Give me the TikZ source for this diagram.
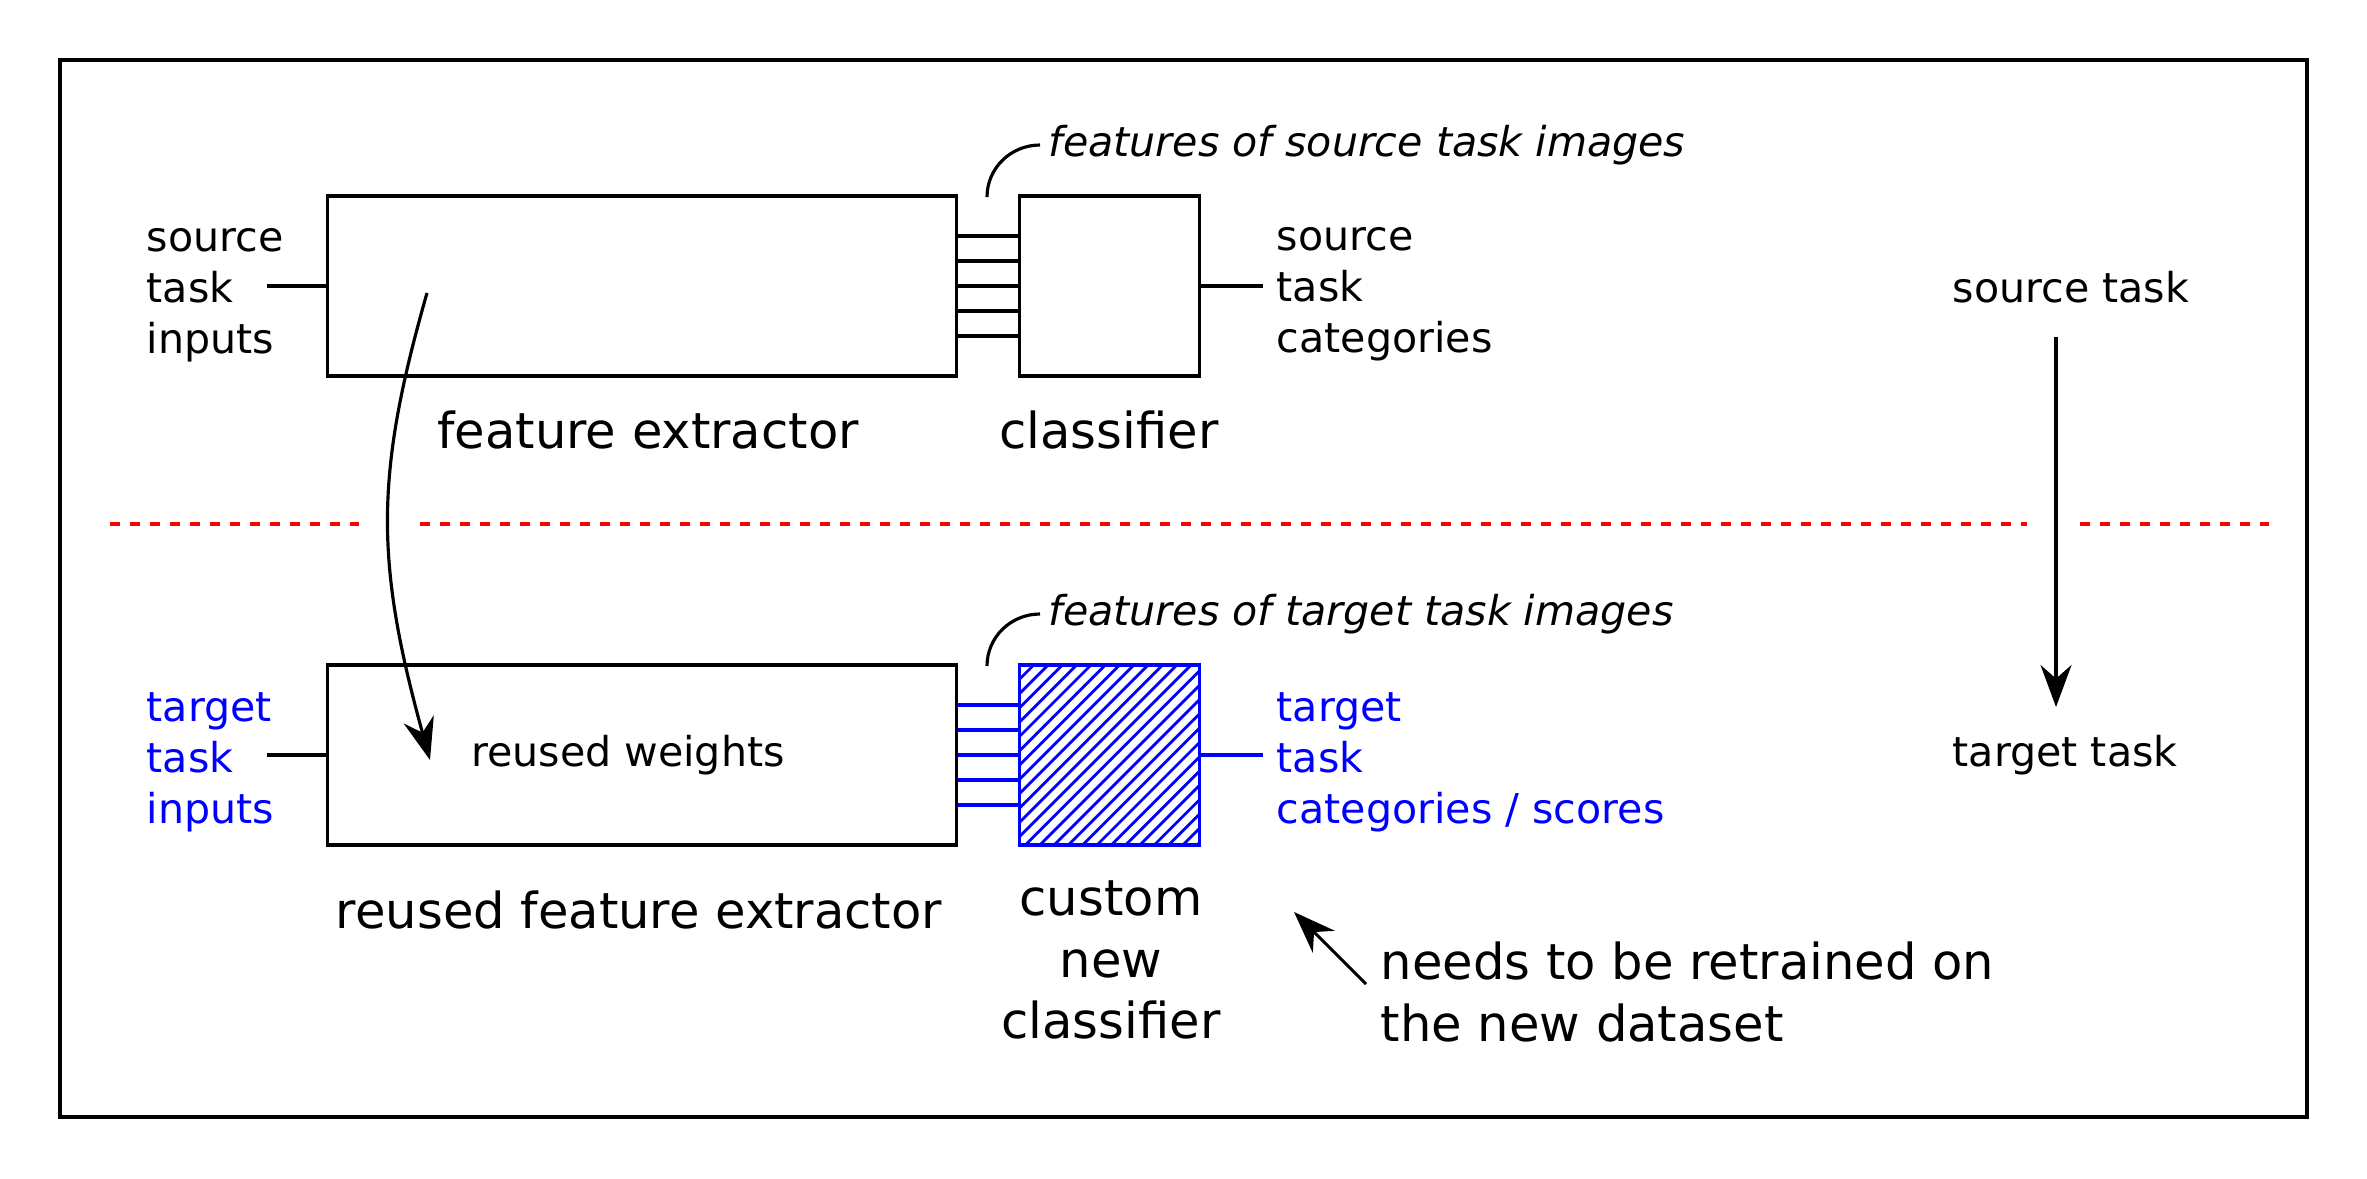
\documentclass[tikz,border=0pt]{standalone}
\usepackage{fontspec}
\setmainfont{DejaVu Sans}[ItalicFont={DejaVu Sans Oblique}]
\usetikzlibrary{arrows.meta, positioning}

\begin{document}
\begin{tikzpicture}[
  x=0.01cm, y=-0.01cm,
  box/.style={draw, line width=0.9pt, minimum height=1.8cm, inner sep=0pt},
  hatched/.style={path picture={
    \foreach \k in {-13,...,13}
      \draw[blue, line width=0.8pt] ([xshift=\k*0.143cm+0.06cm]path picture bounding box.south west) -- ++(1.9cm,1.9cm);}},
  wire/.style={line width=0.9pt},
  small/.style={inner sep=0pt, font=\fontsize{11.7}{14.5}\selectfont},
  note/.style={inner sep=0pt, anchor=west, font=\fontsize{11.7}{14.5}\selectfont\itshape},
  big/.style={inner sep=0pt, font=\fontsize{14.1}{17.6}\selectfont},
  arr/.style={line width=0.9pt, -{Stealth[length=0.42cm, width=0.31cm]}},
  split/.style={red, line width=0.9pt, dash pattern=on 0.1cm off 0.1cm}
]
\useasboundingbox (0,0) rectangle (2367,1179);
\draw[wire] (60,60) rectangle (2307,1117);

% source task
\node[box, minimum width=6.28cm] (fe) at (642,286) {};
\node[box, minimum width=1.8cm, right=0.6cm of fe] (cl) {};
\foreach \dy in {-50,-25,0,25,50}
  \draw[wire] ([yshift=\dy*0.01cm]fe.east) -- ([yshift=\dy*0.01cm]cl.west);
\node[small, anchor=west, align=left] (srcin) at (146,295) {source\\task\\inputs};
\coordinate (srcinend) at (267,286);
\draw[wire] (srcinend) -- (fe.west);
\node[small, align=left, right=0.75cm of cl, yshift=-0.08cm] (srcout) {source\\task\\categories};
\coordinate[right=0.62cm of cl] (srcoutend);
\draw[wire] (cl.east) -- (srcoutend);
\node[big] (felbl) at (648,430) {feature extractor};
\node[big] (cllbl) at (1109,430) {classifier};
\node[note] (srcfeat) at (1048,145) {features of source task images};
\coordinate (srcbend) at (987,197);
\draw[wire] (srcbend) to[out=90, in=180] ([xshift=-0.08cm]srcfeat.west);

% target task
\node[box, minimum width=6.28cm] (rfe) at (642,755) {};
\node[small] (rw) at (628,755) {reused weights};
\node[box, draw=blue, hatched, minimum width=1.8cm, right=0.6cm of rfe] (ncl) {};
\foreach \dy in {-50,-25,0,25,50}
  \draw[wire, blue] ([yshift=\dy*0.01cm]rfe.east) -- ([yshift=\dy*0.01cm]ncl.west);
\node[small, text=blue, anchor=west, align=left] (tgtin) at (146,762) {target\\task\\inputs};
\coordinate (tgtinend) at (267,755);
\draw[wire] (tgtinend) -- (rfe.west);
\node[small, text=blue, align=left, right=0.75cm of ncl, yshift=-0.07cm] (tgtout) {target\\task\\categories / scores};
\coordinate[right=0.62cm of ncl] (tgtoutend);
\draw[wire, blue] (ncl.east) -- (tgtoutend);
\node[big] (rfelbl) at (639,910) {reused feature extractor};
\node[big, align=center] (ncllbl) at (1111,960) {custom\\new\\classifier};
\node[note] (tgtfeat) at (1048,614) {features of target task images};
\coordinate (tgtbend) at (987,666);
\draw[wire] (tgtbend) to[out=90, in=180] ([xshift=-0.08cm]tgtfeat.west);

% retrain note
\node[big, align=left, anchor=west] (retrain) at (1380,992) {needs to be retrained on\\the new dataset};
\coordinate (rtstart) at (1366,984);
\coordinate (rtend) at (1294,912);
\draw[arr] (rtstart) -- (rtend);

% source -> target
\node[small, anchor=west] (st) at (1952,287) {source task};
\node[small, anchor=west] (tt) at (1952,755) {target task};
\coordinate (stend) at (2056,337);
\coordinate (ttend) at (2056,707);
\draw[arr] (stend) -- (ttend);

% divider
\foreach \a/\b in {110/359, 420/2027, 2080/2269}
  \draw[split] (\a,524) -- (\b,524);

% weight reuse
\coordinate (reusestart) at (427,293);
\coordinate (reuseend) at (430,760);
\draw[arr] (reusestart) .. controls (375,475) and (375,561) .. (reuseend);
\end{tikzpicture}
\end{document}
